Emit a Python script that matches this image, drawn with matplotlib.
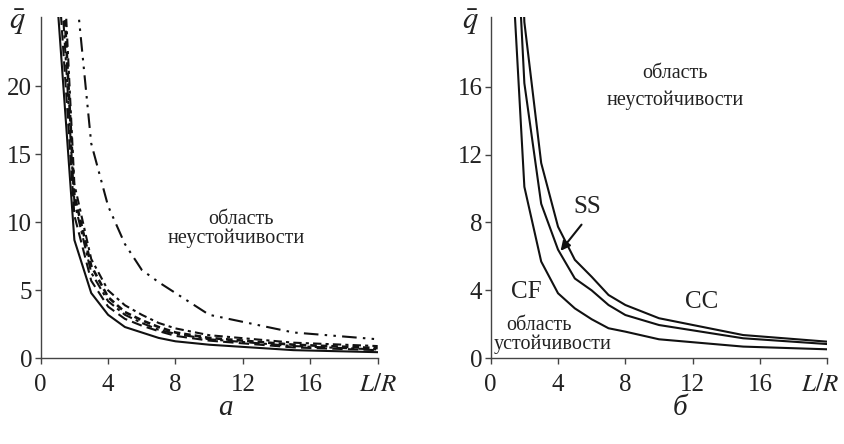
import matplotlib
matplotlib.use("Agg")
import matplotlib.pyplot as plt
from matplotlib.transforms import ScaledTranslation

plt.rcParams['font.family'] = ['Liberation Serif', 'DejaVu Serif']
plt.rcParams['mathtext.fontset'] = 'stix'

# ---- panel a data ----
xa = [1, 2, 3, 4, 5, 6, 7, 8, 10, 15, 20]
a_solid = [26, 8.7, 4.8, 3.2, 2.3, 1.9, 1.5, 1.25, 1.0, 0.6, 0.45]
a_dash1 = [29, 10.5, 5.7, 3.8, 2.9, 2.4, 2.0, 1.65, 1.3, 0.8, 0.6]
a_dashdot1 = [32, 11.5, 6.3, 4.2, 3.2, 2.6, 2.1, 1.8, 1.4, 0.9, 0.65]
a_dash2 = [35, 12.0, 6.8, 4.5, 3.4, 2.8, 2.3, 1.9, 1.5, 1.0, 0.75]
a_dashdot2 = [38, 12.8, 7.3, 5.0, 3.9, 3.2, 2.6, 2.2, 1.7, 1.15, 0.9]
a_dashdotdot = [60, 28.4, 15.8, 11.2, 8.4, 6.5, 5.6, 4.8, 3.2, 1.9, 1.4]

# ---- panel b data ----
xb = [1, 2, 3, 4, 5, 6, 7, 8, 10, 15, 20]
b_CF = [28, 10.1, 5.7, 3.83, 2.94, 2.3, 1.77, 1.57, 1.12, 0.69, 0.53]
b_SS = [35.7, 16.2, 9.1, 6.4, 4.7, 4.0, 3.14, 2.55, 1.96, 1.18, 0.84]
b_CC = [45, 19.8, 11.5, 7.75, 5.8, 4.8, 3.73, 3.14, 2.36, 1.37, 0.98]

xticks = [0, 4, 8, 12, 16, 20]
xticklabels = ['0', '4', '8', '12', '16', '$L/R$']
a_yticks = [0, 5, 10, 15, 20]
b_yticks = [0, 4, 8, 12, 16]

fig = plt.figure(figsize=(8.44, 4.44), dpi=100)
axA = fig.add_axes([0.0482, 0.193, 0.3993, 0.7687])
axB = fig.add_axes([0.5814, 0.193, 0.3988, 0.7687])

lw = 1.5
k = '#111111'
axA.plot(xa, a_solid, color=k, lw=lw, ls='-')
axA.plot(xa, a_dash1, color=k, lw=lw, ls=(0, (5, 2.5)))
axA.plot(xa, a_dashdot1, color=k, lw=lw, ls=(0, (5, 2, 1.5, 2)))
axA.plot(xa, a_dash2, color=k, lw=1.9, ls=(0, (2.5, 1.5)))
axA.plot(xa, a_dashdot2, color=k, lw=lw, ls=(0, (4, 2, 1.5, 2)))
axA.plot(xa, a_dashdotdot, color=k, lw=lw, ls=(0, (7, 3, 1.2, 3, 1.2, 3)))

axB.plot(xb, b_CF, color=k, lw=lw)
axB.plot(xb, b_SS, color=k, lw=lw)
axB.plot(xb, b_CC, color=k, lw=lw)

for ax, yt, ytop in ((axA, a_yticks, 25.1), (axB, b_yticks, 20.1)):
    ax.set_xlim(0, 20)
    ax.set_ylim(0, ytop)
    ax.set_xticks(xticks)
    ax.set_xticklabels(xticklabels)
    ax.set_yticks(yt)
    for s in ('top', 'right'):
        ax.spines[s].set_visible(False)
    for s in ('left', 'bottom'):
        ax.spines[s].set_color('#444444')
        ax.spines[s].set_linewidth(1.0)
    ax.tick_params(axis='both', direction='out', length=4, width=1.0, color='#444444',
                   labelsize=18, colors='#222222')
    ax.tick_params(axis='x', pad=7)
    ax.tick_params(axis='y', pad=2)

# keep the right-panel L/R label inside the figure
lab = axB.get_xticklabels()[-1]
lab.set_transform(lab.get_transform() + ScaledTranslation(-5 / 72, 0, fig.dpi_scale_trans))

fs_txt = 14.5
axA.text(11.9, 10.2, 'область', ha='center', va='center', fontsize=fs_txt, color='#222222')
axA.text(11.6, 8.8, 'неустойчивости', ha='center', va='center', fontsize=fs_txt, color='#222222')

axB.text(10.95, 16.75, 'область', ha='center', va='center', fontsize=fs_txt, color='#222222')
axB.text(10.95, 15.2, 'неустойчивости', ha='center', va='center', fontsize=fs_txt, color='#222222')
axB.text(2.85, 1.96, 'область', ha='center', va='center', fontsize=fs_txt, color='#222222')
axB.text(3.65, 0.84, 'устойчивости', ha='center', va='center', fontsize=fs_txt, color='#222222')

axB.text(5.75, 8.9, 'SS', ha='center', va='center', fontsize=18, color='#222222')
axB.text(2.1, 3.92, 'CF', ha='center', va='center', fontsize=18, color='#222222')
axB.text(12.55, 3.29, 'CC', ha='center', va='center', fontsize=18, color='#222222')
axB.annotate('', xy=(4.05, 6.2), xytext=(5.5, 8.0),
             arrowprops=dict(arrowstyle='-|>', color=k, lw=1.5, mutation_scale=14))

fig.text(17.5 / 844, 1 - 22 / 444, r'$\bar{q}$', ha='center', va='center', fontsize=22, color='#222222')
fig.text(470.8 / 844, 1 - 22 / 444, r'$\bar{q}$', ha='center', va='center', fontsize=22, color='#222222')

fig.text(225 / 844, 1 - 408 / 444, 'а', ha='center', va='center', fontsize=21, style='italic', color='#222222')
fig.text(680 / 844, 1 - 408 / 444, 'б', ha='center', va='center', fontsize=21, style='italic', color='#222222')

fig.savefig('out.png', dpi=100)
